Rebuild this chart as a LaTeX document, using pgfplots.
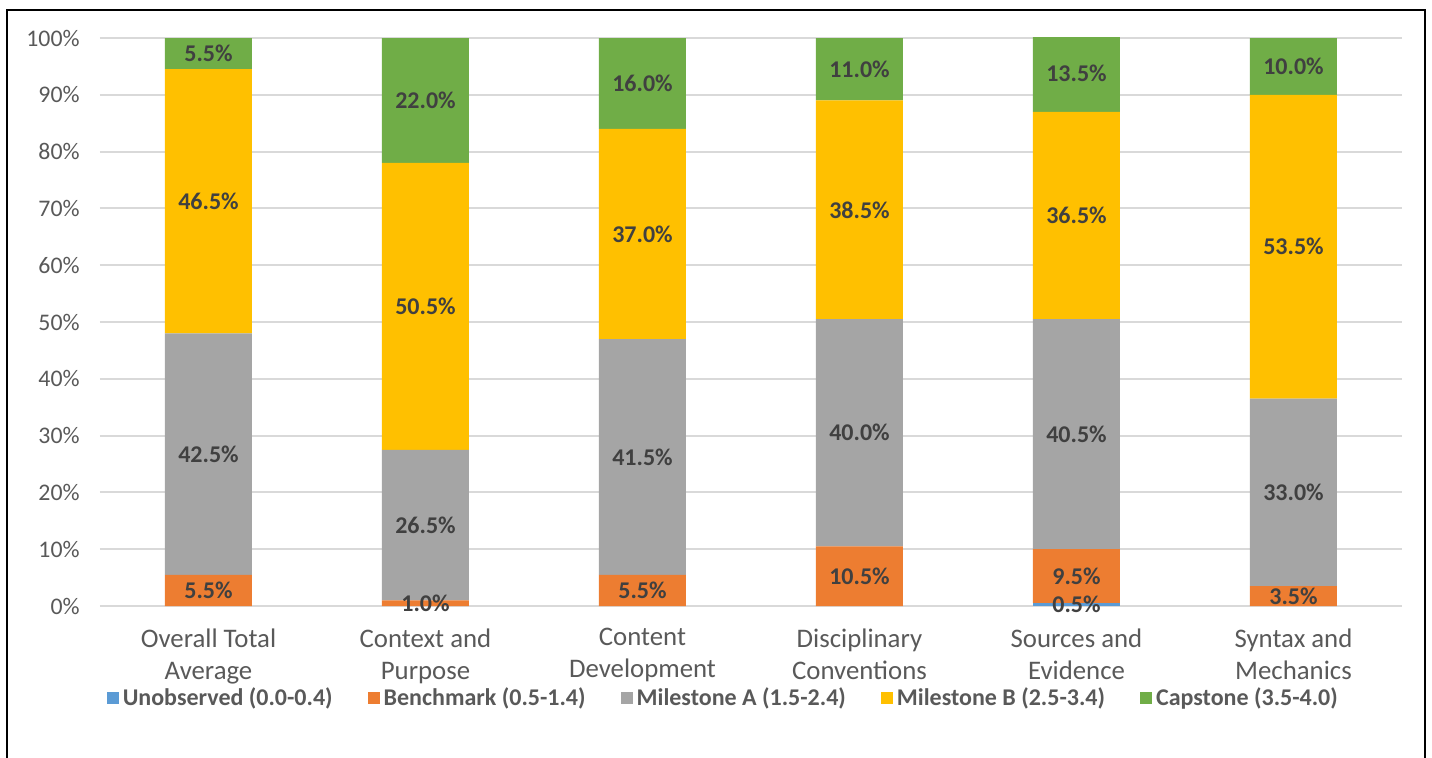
\documentclass[border=0pt]{standalone}
\usepackage{pgfplots}
\usepackage{pgfplotstable}
\pgfplotsset{compat=1.18}
\usepackage{fontspec}
\setmainfont{Carlito}

\definecolor{cUnobs}{HTML}{5B9BD5}
\definecolor{cBench}{HTML}{ED7D31}
\definecolor{cMileA}{HTML}{A5A5A5}
\definecolor{cMileB}{HTML}{FFC000}
\definecolor{cCap}{HTML}{70AD47}
\definecolor{cGrid}{HTML}{D9D9D9}
\definecolor{cText}{HTML}{595959}
\definecolor{cLabel}{HTML}{404040}

% share of students per rubric level (percent)
\pgfplotstableread{
x v
0 0
1 0
2 0
3 0
4 0.5
5 0
}\unobserved
\pgfplotstableread{
x v
0 5.5
1 1.0
2 5.5
3 10.5
4 9.5
5 3.5
}\benchmark
\pgfplotstableread{
x v
0 42.5
1 26.5
2 41.5
3 40.0
4 40.5
5 33.0
}\milestoneA
\pgfplotstableread{
x v
0 46.5
1 50.5
2 37.0
3 38.5
4 36.5
5 53.5
}\milestoneB
\pgfplotstableread{
x v
0 5.5
1 22.0
2 16.0
3 11.0
4 13.5
5 10.0
}\capstone

\begin{document}
\begin{tikzpicture}
\path[use as bounding box] (-50pt,-75.5pt) rectangle (666pt,303pt);
\begin{axis}[
  at={(0,0)}, anchor=south west,
  scale only axis,
  width=651pt, height=285.42pt,
  ybar stacked,
  bar width=43.5pt,
  xmin=-0.5, xmax=5.5,
  ymin=0, ymax=100.5,
  xtick={0,...,5},
  xticklabels={{Overall Total\\Average},{Context and\\Purpose},{Content\\Development},{Disciplinary\\Conventions},{Sources and\\Evidence},{Syntax and\\Mechanics}},
  ytick={0,10,...,100},
  yticklabel={\pgfmathprintnumber[fixed,precision=0]{\tick}\%},
  /pgf/number format/assume math mode=true,
  major tick length=0pt,
  axis line style={draw=none},
  ymajorgrids,
  major grid style={cGrid, line width=1pt},
  yticklabel style={font=\fontsize{11.9}{13}\selectfont, text=cText, inner sep=0pt, xshift=-10pt},
  xticklabel style={font=\fontsize{13.4}{16}\selectfont, text=cText, align=center, inner sep=0pt, yshift=-11pt},
  visualization depends on={\thisrow{v} \as \val},
  nodes near coords={\ifdim\val pt>0pt\pgfmathprintnumber[fixed,fixed zerofill,precision=1]{\val}\%\fi},
  every node near coord/.append style={font=\bfseries\fontsize{12}{13}\selectfont, text=cLabel, anchor=center},
  legend columns=5,
  legend style={at={(0.4795,-0.162)}, anchor=center, draw=none, fill=none,
    font=\bfseries\fontsize{12}{13}\selectfont, text=cText,
    /tikz/every even column/.append style={column sep=15.5pt},
    inner sep=0pt},
  legend image code/.code={\fill[#1] (0pt,-3pt) rectangle (6pt,3pt);},
  clip=true,
]
\addplot[fill=cUnobs, draw=none] table[x=x, y=v] {\unobserved};
\addplot[fill=cBench, draw=none] table[x=x, y=v] {\benchmark};
\addplot[fill=cMileA, draw=none] table[x=x, y=v] {\milestoneA};
\addplot[fill=cMileB, draw=none] table[x=x, y=v] {\milestoneB};
\addplot[fill=cCap, draw=none] table[x=x, y=v] {\capstone};
\legend{Unobserved (0.0-0.4), Benchmark (0.5-1.4), Milestone A (1.5-2.4), Milestone B (2.5-3.4), Capstone (3.5-4.0)}
\end{axis}
% the value axis stops at 100%: blank out the thin band of a stack above it
\fill[white] (0pt,284.5pt) rectangle (651pt,286.5pt);
% outer frame of the figure
\draw[line width=1pt] (-46.5pt,-90pt) -- (-46.5pt,298pt) -- (662.5pt,298pt) -- (662.5pt,-90pt);
\end{tikzpicture}
\end{document}
